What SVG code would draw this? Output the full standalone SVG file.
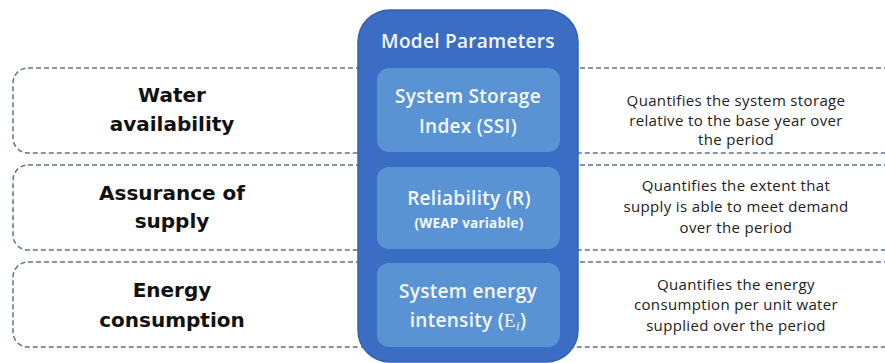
<svg xmlns="http://www.w3.org/2000/svg" width="885" height="363" viewBox="0 0 885 363">
<style>
.row{fill:none;stroke:#5d7290;stroke-width:1.5;stroke-dasharray:5 3}
.lbl{font-family:"DejaVu Sans","Liberation Sans",sans-serif;font-weight:bold;font-size:20px;fill:#111;text-anchor:middle}
.wt{font-family:"Open Sans","Liberation Sans",sans-serif;font-size:19px;font-weight:600;letter-spacing:0.3px;fill:#f4f8fd;text-anchor:middle}
.desc{font-family:"Open Sans","Liberation Sans",sans-serif;font-size:15px;letter-spacing:0.35px;fill:#222;text-anchor:middle}
.inner{fill:#5a93d4}
</style>
<rect width="885" height="363" fill="#fff"/>
<g id="connectors">
<rect class="row" x="13" y="68" width="900" height="85" rx="15"/>
<rect class="row" x="13" y="165" width="900" height="85" rx="15"/>
<rect class="row" x="13" y="262" width="900" height="85" rx="15"/>
</g>
<g id="container">
<rect x="358" y="10" width="220" height="352" rx="32" fill="#3c6dc5" stroke="#3361b4" stroke-width="1.5"/>
<text class="wt" x="468" y="48">Model Parameters</text>
</g>
<g id="ssi">
<rect class="inner" x="377" y="68" width="183" height="84" rx="12"/>
<text class="wt" x="468" y="103">System Storage</text>
<text class="wt" x="468" y="133">Index (SSI)</text>
</g>
<g id="reliability">
<rect class="inner" x="377" y="167" width="183" height="82" rx="12"/>
<text class="wt" x="469" y="205">Reliability (R)</text>
<text class="wt" x="469" y="228" style="font-size:13.5px;font-weight:bold;letter-spacing:0.2px">(WEAP variable)</text>
</g>
<g id="energy">
<rect class="inner" x="377" y="263" width="183" height="84" rx="12"/>
<text class="wt" x="468" y="298">System energy</text>
<text class="wt" x="468" y="327">intensity (<tspan font-family="Liberation Serif,serif" font-weight="normal">E</tspan><tspan font-family="Liberation Serif,serif" font-weight="normal" font-style="italic" font-size="13" dy="3">i</tspan><tspan dy="-3">)</tspan></text>
</g>
<g id="water">
<text class="lbl" x="172" y="102">Water</text>
<text class="lbl" x="172" y="131">availability</text>
<text class="desc" x="736" y="106">Quantifies the system storage</text>
<text class="desc" x="736" y="126">relative to the base year over</text>
<text class="desc" x="736" y="145">the period</text>
</g>
<g id="assurance">
<text class="lbl" x="172" y="200">Assurance of</text>
<text class="lbl" x="172" y="228">supply</text>
<text class="desc" x="736" y="191">Quantifies the extent that</text>
<text class="desc" x="736" y="212">supply is able to meet demand</text>
<text class="desc" x="736" y="233">over the period</text>
</g>
<g id="consumption">
<text class="lbl" x="172" y="297">Energy</text>
<text class="lbl" x="172" y="327">consumption</text>
<text class="desc" x="736" y="290">Quantifies the energy</text>
<text class="desc" x="736" y="310">consumption per unit water</text>
<text class="desc" x="736" y="331">supplied over the period</text>
</g>
</svg>
